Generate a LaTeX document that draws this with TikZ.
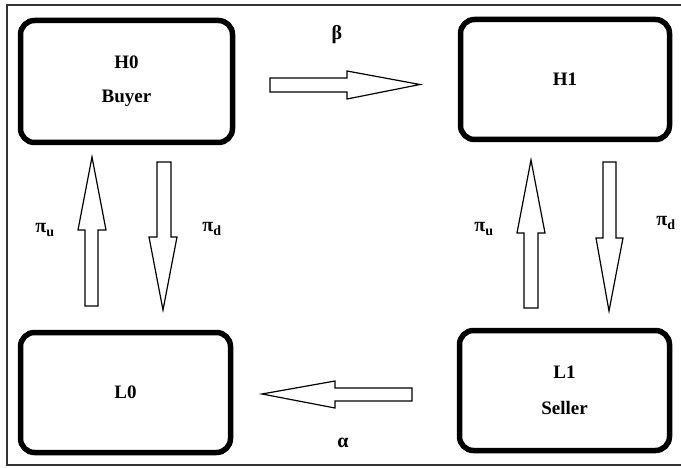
\documentclass[tikz,border=0pt]{standalone}
\usepackage{fontspec}
\setmainfont{Liberation Serif}
\begin{document}
\begin{tikzpicture}[x=1pt,y=-1pt,
  statebox/.style={draw, line width=5.5pt, rounded corners=14pt, inner sep=0pt, align=center, font=\fontsize{19}{22}\selectfont\bfseries},
  blockarrow/.style={draw, line width=1.2pt, fill=white, line join=miter},
  lbl/.style={font=\fontsize{20}{22}\selectfont\bfseries, inner sep=0pt}]
\useasboundingbox (0,0) rectangle (681,468);
\clip (0,0) rectangle (681,468);
\fill[white] (0,0) rectangle (681,468);
\draw[line width=1.3pt, black!80] (7,5) rectangle (700,465);
% boxes
\node[statebox, minimum width=212pt, minimum height=122pt] (H0) at (126.5,81.5) {H0\\[12pt]Buyer};
\node[statebox, minimum width=209pt, minimum height=120pt] (H1) at (565,79.5) {H1};
\node[statebox, minimum width=210pt, minimum height=120pt] (L0) at (125.5,392.5) {L0};
\node[statebox, minimum width=210pt, minimum height=120pt] (L1) at (564.5,390.5) {L1\\[14pt]Seller};
% block arrows
\draw[blockarrow] (270,78) -- (347,78) -- (347,71) -- (420,84.5) -- (347,99) -- (347,92) -- (270,92) -- cycle;
\draw[blockarrow] (412,388) -- (335,388) -- (335,381) -- (262,394) -- (335,408) -- (335,401) -- (412,401) -- cycle;
\draw[blockarrow] (85,306) -- (85,230) -- (78,230) -- (92,157) -- (106,230) -- (98,230) -- (98,306) -- cycle;
\draw[blockarrow] (157,162) -- (157,237) -- (149,237) -- (163,310) -- (177,237) -- (171,237) -- (171,162) -- cycle;
\draw[blockarrow] (524,308) -- (524,233) -- (517,233) -- (531,160) -- (545,233) -- (538,233) -- (538,308) -- cycle;
\draw[blockarrow] (603,162) -- (603,238) -- (596,238) -- (609,311) -- (623,238) -- (616,238) -- (616,162) -- cycle;
% labels
\node[lbl] (beta) at (337,35) {β};
\node[lbl] (alpha) at (343,443) {α};
\node[lbl] (pul) at (45,230) {π\textsubscript{u}};
\node[lbl] (pdl) at (212,229) {π\textsubscript{d}};
\node[lbl] (pur) at (484,229) {π\textsubscript{u}};
\node[lbl] (pdr) at (666,223) {π\textsubscript{d}};
\end{tikzpicture}
\end{document}
